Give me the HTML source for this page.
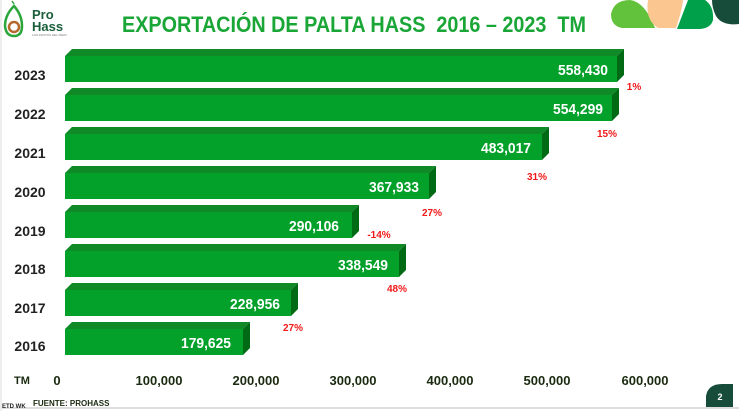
<!DOCTYPE html>
<html><head><meta charset="utf-8"><style>
html,body{margin:0;padding:0;background:#fff;}
svg{display:block;font-family:"Liberation Sans Narrow","Liberation Sans",sans-serif;font-weight:bold;}
</style></head><body>
<svg width="739" height="411" viewBox="0 0 739 411" xmlns="http://www.w3.org/2000/svg">
<rect width="739" height="411" fill="#fff"/>
<line x1="0" y1="408" x2="739" y2="408" stroke="#ddd" stroke-width="2"/>
<line x1="1" y1="0" x2="1" y2="411" stroke="#eee" stroke-width="2"/>
<!-- decor -->
<path d="M611,14 Q614,0 630,0 Q645,2 655,28 L622,28 Q611,26 611,14Z" fill="#63c23c"/>
<path d="M648,0 L683,0 Q682,10 676,28 L658,28 Q645,20 648,0Z" fill="#fbc68f"/>
<path d="M688,0 L705,0 Q714,6 713,20 Q711,28 700,29 L677,29 Z" fill="#00a04a"/>
<path d="M712,0 L739,0 L739,24 Q722,26 716,16 Q712,8 712,0Z" fill="#174c3a"/>
<!-- logo -->
<path d="M14,4 L12,1" stroke="#2aa63a" stroke-width="1.5"/>
<path d="M14,6 Q5,15 5,26 Q6,36 14,36 Q22,36 22,26 Q22,15 14,6Z" fill="none" stroke="#2aa63a" stroke-width="2.5"/>
<circle cx="14" cy="27" r="5" fill="none" stroke="#b36a2c" stroke-width="2.5"/>
<text x="32" y="19" font-family="Liberation Sans" font-size="13" fill="#1b5e3a">Pro</text>
<text x="32" y="31" font-family="Liberation Sans" font-size="13" fill="#1b5e3a">Hass</text>
<text x="32" y="36" font-family="Liberation Sans" font-size="3" fill="#777" font-weight="normal">LOS FRUTOS DEL PERU</text>
<!-- title -->
<text x="122" y="32" xml:space="preserve" font-family="Liberation Sans" font-size="22" fill="#1aa637" textLength="464" lengthAdjust="spacingAndGlyphs">EXPORTACIÓN DE PALTA HASS  2016 – 2023  TM</text>
<!-- bars -->
<g font-size="15">
<g transform="translate(0,0)">
<polygon points="65,56 72,49 624,49 617,56" fill="#0f8a26"/><polygon points="617,56 624,49 624,75 617,82" fill="#006a14"/><rect x="65" y="56" width="552" height="26" fill="#03a02a"/>
<text x="558" y="75" fill="#fff" textLength="50" lengthAdjust="spacingAndGlyphs">558,430</text></g>
<g transform="translate(0,39)">
<polygon points="65,56 72,49 619,49 612,56" fill="#0f8a26"/><polygon points="612,56 619,49 619,75 612,82" fill="#006a14"/><rect x="65" y="56" width="547" height="26" fill="#03a02a"/>
<text x="553" y="75" fill="#fff" textLength="50" lengthAdjust="spacingAndGlyphs">554,299</text></g>
<g transform="translate(0,78)">
<polygon points="65,56 72,49 549,49 542,56" fill="#0f8a26"/><polygon points="542,56 549,49 549,75 542,82" fill="#006a14"/><rect x="65" y="56" width="477" height="26" fill="#03a02a"/>
<text x="481" y="75" fill="#fff" textLength="50" lengthAdjust="spacingAndGlyphs">483,017</text></g>
<g transform="translate(0,117)">
<polygon points="65,56 72,49 436,49 429,56" fill="#0f8a26"/><polygon points="429,56 436,49 436,75 429,82" fill="#006a14"/><rect x="65" y="56" width="364" height="26" fill="#03a02a"/>
<text x="369" y="75" fill="#fff" textLength="50" lengthAdjust="spacingAndGlyphs">367,933</text></g>
<g transform="translate(0,156)">
<polygon points="65,56 72,49 359,49 352,56" fill="#0f8a26"/><polygon points="352,56 359,49 359,75 352,82" fill="#006a14"/><rect x="65" y="56" width="287" height="26" fill="#03a02a"/>
<text x="289" y="75" fill="#fff" textLength="50" lengthAdjust="spacingAndGlyphs">290,106</text></g>
<g transform="translate(0,195)">
<polygon points="65,56 72,49 406,49 399,56" fill="#0f8a26"/><polygon points="399,56 406,49 406,75 399,82" fill="#006a14"/><rect x="65" y="56" width="334" height="26" fill="#03a02a"/>
<text x="338" y="75" fill="#fff" textLength="50" lengthAdjust="spacingAndGlyphs">338,549</text></g>
<g transform="translate(0,234)">
<polygon points="65,56 72,49 298,49 291,56" fill="#0f8a26"/><polygon points="291,56 298,49 298,75 291,82" fill="#006a14"/><rect x="65" y="56" width="226" height="26" fill="#03a02a"/>
<text x="230" y="75" fill="#fff" textLength="50" lengthAdjust="spacingAndGlyphs">228,956</text></g>
<g transform="translate(0,273)">
<polygon points="65,56 72,49 250,49 243,56" fill="#0f8a26"/><polygon points="243,56 250,49 250,75 243,82" fill="#006a14"/><rect x="65" y="56" width="178" height="26" fill="#03a02a"/>
<text x="181" y="75" fill="#fff" textLength="50" lengthAdjust="spacingAndGlyphs">179,625</text></g>
</g>
<!-- year labels -->
<g font-size="14" fill="#222" text-anchor="middle">
<text x="30" y="80">2023</text><text x="30" y="119">2022</text><text x="30" y="158">2021</text><text x="30" y="197">2020</text>
<text x="30" y="236">2019</text><text x="30" y="274">2018</text><text x="30" y="313">2017</text><text x="30" y="351">2016</text>
</g>
<!-- percentages -->
<g font-size="10" fill="#f01818" text-anchor="middle">
<text x="634" y="90">1%</text><text x="607" y="137">15%</text><text x="537" y="180">31%</text><text x="432" y="216">27%</text>
<text x="379" y="238">-14%</text><text x="397" y="292">48%</text><text x="293" y="331">27%</text>
</g>
<!-- axis -->
<g font-size="13" fill="#1a2a10" text-anchor="middle">
<text x="22" y="384" font-size="11">TM</text>
<text x="57" y="385">0</text><text x="159" y="385">100,000</text><text x="256" y="385">200,000</text><text x="353" y="385">300,000</text>
<text x="450" y="385">400,000</text><text x="547" y="385">500,000</text><text x="645" y="385">600,000</text>
</g>
<text x="2" y="408" font-size="6" fill="#222">ETD WK</text>
<text x="33" y="406" font-size="8" fill="#1a2a10">FUENTE: PROHASS</text>
<path d="M706,407 L706,396 Q708,384 722,384 L733,384 L733,407Z" fill="#174c3a"/>
<text x="720" y="400" font-size="9" fill="#fff" text-anchor="middle">2</text>
</svg>
</body></html>
